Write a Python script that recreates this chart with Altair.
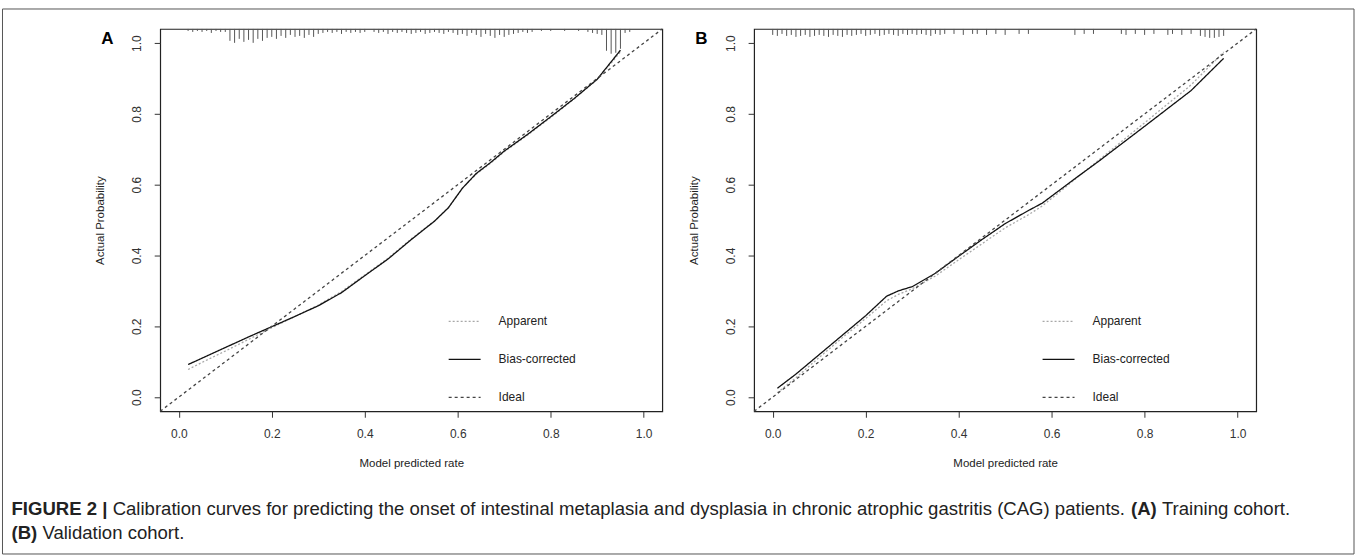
import altair as alt
import pandas as pd

# ---------------- data ----------------
SERIES = ["Apparent", "Bias-corrected", "Ideal"]
TICKS = [0.0, 0.2, 0.4, 0.6, 0.8, 1.0]
DOMAIN = [-0.04, 1.04]
PANEL_TAGS = ["A", "B"]

# Panel A (training cohort)
a_x = [0.02, 0.05, 0.10, 0.15, 0.20, 0.25, 0.30, 0.35, 0.40, 0.45, 0.50,
       0.55, 0.58, 0.61, 0.64, 0.67, 0.70, 0.75, 0.80, 0.85, 0.90, 0.95]
a_bias = [0.092, 0.110, 0.140, 0.170, 0.199, 0.228, 0.258, 0.295, 0.343, 0.390, 0.445,
          0.497, 0.535, 0.590, 0.632, 0.662, 0.695, 0.742, 0.792, 0.843, 0.898, 0.980]
a_app = [0.078, 0.098, 0.130, 0.163, 0.196, 0.228, 0.260, 0.298, 0.345, 0.392, 0.447,
         0.498, 0.536, 0.590, 0.630, 0.660, 0.693, 0.740, 0.790, 0.842, 0.897, 0.975]
a_rug_x = [0.02, 0.03, 0.04, 0.05, 0.06, 0.07, 0.08, 0.09, 0.10,
           0.11, 0.12, 0.13, 0.14, 0.15, 0.16, 0.17, 0.18, 0.19,
           0.20, 0.21, 0.22, 0.23, 0.24, 0.25, 0.26, 0.27, 0.28, 0.29, 0.30,
           0.31, 0.32, 0.33, 0.34, 0.35, 0.36, 0.37, 0.38, 0.39, 0.40,
           0.42, 0.43, 0.44, 0.45, 0.46, 0.47, 0.48, 0.49, 0.50,
           0.51, 0.52, 0.53, 0.54, 0.55, 0.56, 0.57, 0.58, 0.59, 0.60,
           0.61, 0.62, 0.63, 0.64, 0.65, 0.66, 0.67, 0.68, 0.69, 0.70,
           0.71, 0.72, 0.73, 0.74, 0.75, 0.76,
           0.78, 0.80, 0.83, 0.86,
           0.88, 0.89, 0.90, 0.91,
           0.92, 0.93, 0.94, 0.95,
           0.96, 0.97]
a_rug_n = [2, 3, 2, 3, 2, 4, 2, 3, 3,
           12, 14, 10, 13, 11, 14, 10, 12, 9,
           8, 10, 7, 9, 6, 8, 7, 9, 6, 8, 5,
           4, 3, 4, 3, 5, 3, 4, 3, 4, 3,
           3, 4, 3, 5, 3, 4, 3, 4, 5,
           4, 3, 5, 4, 3, 4, 5, 3, 4, 6,
           5, 7, 4, 6, 8, 5, 7, 9, 6, 8,
           6, 5, 4, 3, 4, 3,
           2, 2, 2, 2,
           3, 4, 5, 6,
           22, 25, 24, 20,
           4, 3]

# Panel B (validation cohort)
b_x = [0.01, 0.05, 0.10, 0.15, 0.20, 0.245, 0.27, 0.30, 0.35, 0.40,
       0.45, 0.50, 0.55, 0.58, 0.65, 0.70, 0.80, 0.90, 0.97]
b_bias = [0.025, 0.065, 0.120, 0.175, 0.230, 0.285, 0.300, 0.312, 0.350, 0.398,
          0.445, 0.490, 0.527, 0.548, 0.617, 0.665, 0.765, 0.866, 0.957]
b_app = [0.012, 0.055, 0.112, 0.168, 0.222, 0.272, 0.290, 0.306, 0.342, 0.388,
         0.433, 0.478, 0.515, 0.540, 0.615, 0.668, 0.775, 0.882, 0.975]
b_rug_x = [0.00, 0.01, 0.02, 0.03, 0.04, 0.05, 0.06, 0.07, 0.08, 0.09,
           0.10, 0.11, 0.12, 0.13, 0.14, 0.15, 0.16, 0.17, 0.18, 0.19,
           0.20, 0.21, 0.22, 0.23, 0.24, 0.25, 0.26, 0.27, 0.28, 0.29,
           0.30, 0.31, 0.32, 0.33, 0.34, 0.35, 0.36, 0.37,
           0.39, 0.41, 0.43, 0.44, 0.46, 0.48, 0.50, 0.53, 0.55,
           0.65, 0.67, 0.69,
           0.75, 0.76, 0.78, 0.80, 0.82,
           0.85, 0.86, 0.88, 0.90,
           0.92, 0.93, 0.94, 0.95, 0.96, 0.97]
b_rug_n = [6, 7, 5, 7, 6, 8, 7, 6, 8, 7,
           6, 7, 8, 6, 7, 8, 6, 7, 6, 5,
           7, 6, 5, 7, 6, 5, 6, 7, 5, 6,
           5, 6, 5, 6, 7, 5, 6, 5,
           5, 6, 5, 5, 6, 5, 6, 5, 5,
           6, 5, 5,
           5, 6, 5, 6, 5,
           6, 5, 6, 5,
           7, 8, 9, 9, 8, 7]

CAPTION_1 = ["FIGURE 2 |",
             "Calibration curves for predicting the onset of intestinal metaplasia and dysplasia in chronic atrophic gastritis (CAG) patients.",
             "(A)", "Training cohort."]
CAPTION_2 = ["(B)", "Validation cohort."]

# ---------------- styling helpers ----------------
FONT = "Liberation Sans"
COLORS = ["#a8a8a8", "#111111", "#444444"]
DASHES = [[2, 2], [1, 0], [3, 3]]
W, H = 503, 383
GAP = 92

# Arial / Liberation Sans advance widths (per 1000 em) used to place bold runs inline
REG = {" ": 278, "(": 333, ")": 333, ".": 278, "|": 260, "-": 333,
       "A": 667, "B": 667, "C": 722, "G": 778, "T": 611, "V": 667,
       "a": 556, "b": 556, "c": 500, "d": 556, "e": 556, "f": 278, "g": 556,
       "h": 556, "i": 222, "k": 500, "l": 222, "m": 833, "n": 556, "o": 556,
       "p": 556, "r": 333, "s": 500, "t": 278, "u": 556, "v": 500, "y": 500}
BOLD = {" ": 278, "(": 333, ")": 333, "|": 280, "2": 556, "A": 722, "B": 722,
        "E": 667, "F": 611, "G": 778, "I": 278, "R": 722, "U": 722}
CAP_SIZE = 18.6


def tw(s, table):
    return sum(table.get(c, 556) for c in s) * CAP_SIZE / 1000.0


xs = alt.Scale(domain=DOMAIN, nice=False, zero=False)
ys = alt.Scale(domain=DOMAIN, nice=False, zero=False)

x_axis = alt.Axis(values=TICKS, format=".1f", grid=False, domain=False,
                  tickSize=6, tickColor="#333", tickWidth=1,
                  labelPadding=11, labelFontSize=12, labelFont=FONT, labelColor="#333",
                  title="Model predicted rate", titleFont=FONT, titleFontSize=11.5,
                  titleFontWeight="normal", titleColor="#222", titlePadding=18)
y_axis = alt.Axis(values=TICKS, format=".1f", grid=False, domain=False,
                  tickSize=6, tickColor="#333", tickWidth=1,
                  labelAngle=270, labelAlign="center", labelBaseline="bottom",
                  labelPadding=11, labelFontSize=12, labelFont=FONT, labelColor="#333",
                  title="Actual Probability", titleFont=FONT, titleFontSize=11.5,
                  titleFontWeight="normal", titleColor="#222", titlePadding=25)

ONE = pd.DataFrame({"k": [0]})


def legend():
    return alt.Legend(title=None, orient="none", legendX=288, legendY=276,
                      symbolType="stroke", symbolSize=1024, symbolStrokeWidth=1.3,
                      labelOffset=17, rowPadding=15, padding=0,
                      labelFont=FONT, labelFontSize=12, labelColor="#222")


def panel(tag, cx, app, bias, rx, rn, extra=()):
    n = len(cx)
    curves = pd.DataFrame({"x": cx + cx + DOMAIN,
                           "y": app + bias + DOMAIN,
                           "series": [SERIES[0]] * n + [SERIES[1]] * n + [SERIES[2]] * 2})
    color = alt.Color("series:N", scale=alt.Scale(domain=SERIES, range=COLORS), legend=legend())
    dash = alt.StrokeDash("series:N", scale=alt.Scale(domain=SERIES, range=DASHES), legend=legend())
    lines = alt.Chart(curves).mark_line(strokeWidth=1.3).encode(
        x=alt.X("x:Q", scale=xs, axis=x_axis),
        y=alt.Y("y:Q", scale=ys, axis=y_axis),
        color=color, strokeDash=dash)
    rug = alt.Chart(pd.DataFrame({"x": rx, "n": rn})).transform_calculate(
        top="1.04", bottom="1.04 - datum.n * 0.0028"
    ).mark_rule(color="#555", strokeWidth=1).encode(
        x=alt.X("x:Q", scale=xs, axis=x_axis),
        y=alt.Y("bottom:Q", scale=ys, axis=y_axis),
        y2="top:Q")
    label = alt.Chart(ONE).mark_text(
        align="left", baseline="alphabetic", font=FONT, fontSize=17,
        fontWeight="bold", color="#000").encode(
        x=alt.value(-59), y=alt.value(15), text=alt.value(tag))
    return alt.layer(lines, rug, label, *extra).properties(width=W, height=H)


# caption runs (bold / regular) positioned with font metrics, relative to panel A origin
cap_layers = []
border = alt.Chart(ONE).mark_rect(filled=False, stroke="#555", strokeWidth=1).encode(
    x=alt.value(-158), x2=alt.value(1196), y=alt.value(-20), y2=alt.value(526))
cap_layers.append(border)
for line_segs, py in ((CAPTION_1, 481), (CAPTION_2, 505)):
    px = -149
    for i, seg in enumerate(line_segs):
        bold = seg.startswith("(") and seg.endswith(")") or seg.startswith("FIGURE")
        cap_layers.append(alt.Chart(ONE).mark_text(
            align="left", baseline="middle", font=FONT, fontSize=CAP_SIZE,
            fontWeight="bold" if bold else "normal", color="#222").encode(
            x=alt.value(px), y=alt.value(py), text=alt.value(seg)))
        px += tw(seg, BOLD if bold else REG) + tw(" ", REG)

pA = panel(PANEL_TAGS[0], a_x, a_app, a_bias, a_rug_x, a_rug_n, extra=cap_layers)
pB = panel(PANEL_TAGS[1], b_x, b_app, b_bias, b_rug_x, b_rug_n)

chart = alt.hconcat(pA, pB, spacing=GAP, bounds="flush").resolve_scale(
    color="independent", strokeDash="independent"
).resolve_legend(
    color="independent", strokeDash="independent"
).properties(
    padding={"left": 0.5, "top": 6.5, "right": 1, "bottom": 4}
).configure_view(stroke="#222", strokeWidth=1.2)

chart.save("out.html", embed_options={"renderer": "svg", "actions": False})
